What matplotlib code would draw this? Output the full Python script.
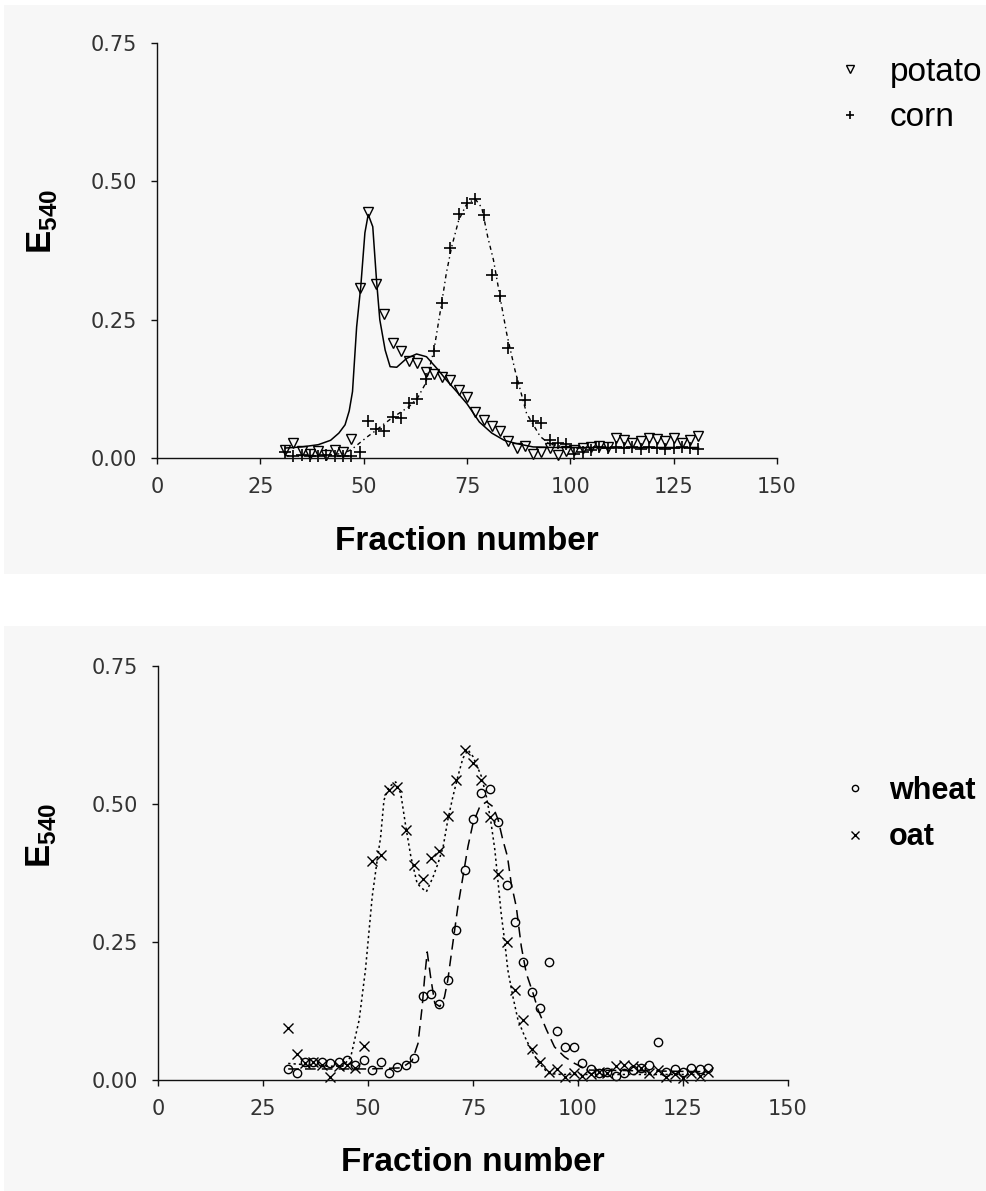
import matplotlib
matplotlib.use("Agg")
import matplotlib.pyplot as plt
from matplotlib.patches import Rectangle

# ---- data (E540 per fraction) ----
fractions = list(range(31, 132, 2))

potato = [0.015, 0.028, 0.012, 0.008, 0.012, 0.006, 0.014, 0.010, 0.034, 0.307,
          0.445, 0.315, 0.260, 0.208, 0.194, 0.176, 0.171, 0.156, 0.152, 0.146,
          0.141, 0.123, 0.110, 0.084, 0.069, 0.057, 0.048, 0.030, 0.018, 0.022,
          0.008, 0.010, 0.018, 0.005, 0.012, 0.014, 0.018, 0.020, 0.022, 0.020,
          0.036, 0.032, 0.028, 0.030, 0.036, 0.034, 0.030, 0.036, 0.028, 0.032,
          0.040]
corn = [0.010, 0.004, 0.006, 0.004, 0.003, 0.005, 0.004, 0.003, 0.003, 0.010,
        0.067, 0.052, 0.048, 0.075, 0.072, 0.099, 0.106, 0.142, 0.194, 0.280,
        0.379, 0.441, 0.460, 0.468, 0.439, 0.331, 0.292, 0.198, 0.135, 0.104,
        0.066, 0.063, 0.033, 0.028, 0.026, 0.008, 0.010, 0.015, 0.020, 0.018,
        0.020, 0.018, 0.020, 0.016, 0.020, 0.018, 0.016, 0.018, 0.020, 0.018,
        0.016]
wheat = [0.020, 0.012, 0.033, 0.033, 0.033, 0.030, 0.033, 0.037, 0.027, 0.036,
         0.018, 0.033, 0.012, 0.024, 0.027, 0.040, 0.153, 0.156, 0.138, 0.181,
         0.272, 0.380, 0.472, 0.520, 0.527, 0.468, 0.353, 0.287, 0.213, 0.160,
         0.131, 0.213, 0.088, 0.060, 0.060, 0.030, 0.020, 0.012, 0.015, 0.008,
         0.012, 0.018, 0.022, 0.028, 0.068, 0.015, 0.020, 0.015, 0.022, 0.020,
         0.022]
oat = [0.095, 0.048, 0.030, 0.033, 0.028, 0.006, 0.025, 0.028, 0.022, 0.062,
       0.397, 0.408, 0.525, 0.531, 0.452, 0.390, 0.364, 0.402, 0.415, 0.478,
       0.543, 0.598, 0.575, 0.543, 0.476, 0.373, 0.250, 0.163, 0.109, 0.057,
       0.033, 0.015, 0.020, 0.005, 0.012, 0.008, 0.010, 0.015, 0.012, 0.025,
       0.028, 0.025, 0.022, 0.012, 0.018, 0.005, 0.010, 0.003, 0.012, 0.008,
       0.015]

# fitted curves
potato_fit_x = [31, 35, 39, 42, 44, 45.5, 46.5, 47.3, 48.3, 49.3, 50.3, 51.1, 52.2,
                53.1, 53.9, 55.2, 56.4, 58, 60.4, 62.8, 65.2, 67.7, 70, 72.5, 75,
                78, 81, 84, 87, 91, 96, 131]
potato_fit_y = [0.018, 0.020, 0.024, 0.032, 0.045, 0.060, 0.085, 0.120, 0.237, 0.310,
                0.407, 0.440, 0.418, 0.322, 0.250, 0.195, 0.165, 0.164, 0.180, 0.188,
                0.183, 0.162, 0.141, 0.120, 0.098, 0.065, 0.045, 0.032, 0.026, 0.020,
                0.019, 0.019]
corn_fit_x = [31, 40, 45, 47, 49, 51, 53, 55, 57, 59, 61, 63, 65, 67, 69, 70, 71.3,
              73, 75, 77, 78.6, 80, 81.4, 83.4, 84.6, 86.6, 89.4, 92.7, 95, 100, 131]
corn_fit_y = [0.004, 0.005, 0.008, 0.015, 0.027, 0.039, 0.050, 0.062, 0.073, 0.083,
              0.093, 0.108, 0.135, 0.195, 0.286, 0.334, 0.382, 0.430, 0.460, 0.468,
              0.452, 0.400, 0.358, 0.274, 0.225, 0.159, 0.081, 0.039, 0.025, 0.018,
              0.018]
wheat_fit_x = [31, 40, 50, 58, 60.5, 61.9, 62.9, 63.5, 64.1, 64.9, 65.9, 67.1, 68.2,
               69, 69.8, 71.4, 72.6, 73.8, 75, 76.6, 78.2, 79.8, 81, 82.1, 83.2, 84.1,
               85.3, 86.5, 87.7, 89.3, 90.5, 92.5, 94.4, 96.8, 99.2, 102.4, 131]
wheat_fit_y = [0.020, 0.020, 0.020, 0.022, 0.035, 0.066, 0.133, 0.187, 0.232, 0.187,
               0.139, 0.133, 0.150, 0.181, 0.226, 0.314, 0.368, 0.423, 0.465, 0.495,
               0.504, 0.495, 0.471, 0.435, 0.405, 0.356, 0.314, 0.242, 0.193, 0.157,
               0.127, 0.091, 0.060, 0.042, 0.030, 0.018, 0.015]
oat_fit_x = [31, 40, 44, 45.9, 47.9, 49.4, 51, 52.2, 53, 53.8, 55, 56.6, 57.8, 59,
             60.2, 61.7, 62.9, 63.9, 65.5, 66.7, 67.9, 69, 70.2, 71.4, 72.6, 73.8, 75,
             77, 78.2, 79.2, 80.2, 81, 81.7, 82.5, 83.3, 84.5, 85.7, 87.3, 88.9, 90.5,
             92.9, 96, 131]
oat_fit_y = [0.030, 0.025, 0.025, 0.042, 0.109, 0.200, 0.332, 0.399, 0.440, 0.507,
             0.531, 0.540, 0.519, 0.459, 0.405, 0.356, 0.347, 0.341, 0.368, 0.393,
             0.423, 0.471, 0.513, 0.550, 0.583, 0.598, 0.586, 0.550, 0.513, 0.471,
             0.417, 0.356, 0.302, 0.254, 0.199, 0.151, 0.109, 0.079, 0.054, 0.033,
             0.012, 0.010, 0.010]

x_ticks = [0, 25, 50, 75, 100, 125, 150]
y_ticks = [0.00, 0.25, 0.50, 0.75]

W, H = 986, 1191
BG = "#f7f7f7"
LABEL_FONT = "Liberation Sans"
TICK_FONT = "DejaVu Sans"

plt.rcParams["mathtext.fontset"] = "custom"
plt.rcParams["mathtext.bf"] = "Liberation Sans:bold"
plt.rcParams["mathtext.rm"] = "Liberation Sans"


def px_box(left, right, top, bottom):
    """figure-fraction rect from pixel edges (y measured from the top)"""
    return [left / W, 1 - bottom / H, (right - left) / W, (bottom - top) / H]


def style_axes(ax, ylabel_y):
    ax.set_facecolor("none")
    ax.set_xlim(0, 150)
    ax.set_ylim(0, 0.75)
    for side in ("top", "right"):
        ax.spines[side].set_visible(False)
    for side in ("left", "bottom"):
        ax.spines[side].set_linewidth(1.0)
        ax.spines[side].set_color("#111111")
    ax.set_xticks(x_ticks)
    ax.set_yticks(y_ticks)
    ax.set_yticklabels([f"{v:.2f}" for v in y_ticks])
    ax.tick_params(direction="out", length=4.5, width=1.0, color="#111111",
                   labelsize=15, labelcolor="#333333")
    ax.tick_params(axis="y", pad=10)
    ax.tick_params(axis="x", pad=9)
    for lab in ax.get_xticklabels() + ax.get_yticklabels():
        lab.set_fontfamily(TICK_FONT)
    ax.text(0.5, -0.2, "Fraction number", transform=ax.transAxes, ha="center",
            va="center", fontsize=24, fontweight="bold", family=LABEL_FONT)
    ax.text(-0.185, ylabel_y, r"$\mathbf{E}_{\mathbf{540}}$", transform=ax.transAxes,
            rotation=90, ha="center", va="center", fontsize=25)


fig = plt.figure(figsize=(W / 100, H / 100), dpi=100)
fig.patch.set_facecolor("white")
for top, bottom in [(5, 574), (626, H)]:
    fig.add_artist(Rectangle((4 / W, 1 - bottom / H), 1 - 4 / W, (bottom - top) / H,
                             transform=fig.transFigure, facecolor=BG,
                             edgecolor="none", zorder=0))

# ---- top panel: potato / corn ----
ax1 = fig.add_axes(px_box(157, 777, 43, 458))
style_axes(ax1, 0.57)
ax1.plot(potato_fit_x, potato_fit_y, color="black", lw=1.1, solid_joinstyle="round")
ax1.plot(corn_fit_x, corn_fit_y, color="black", lw=1.0, dashes=(3, 2.5, 1, 2.5))
h_potato, = ax1.plot(fractions, potato, ls="none", marker="v", ms=7.5, mfc="none",
                     mec="black", mew=1.0, clip_on=False, label="potato")
h_corn, = ax1.plot(fractions, corn, ls="none", marker="+", ms=8, mec="black",
                   mew=1.2, clip_on=False, label="corn")
ax1.legend(handles=[h_potato, h_corn], loc="center left",
           bbox_to_anchor=(840 / W, 1 - 95 / H), bbox_transform=fig.transFigure,
           frameon=False, handlelength=0.6, handletextpad=0.9, labelspacing=0.45,
           borderpad=0, borderaxespad=0, markerscale=0.75,
           prop={"family": LABEL_FONT, "size": 24})

# ---- bottom panel: wheat / oat ----
ax2 = fig.add_axes(px_box(158, 788, 666, 1080))
style_axes(ax2, 0.59)
ax2.plot(wheat_fit_x, wheat_fit_y, color="black", lw=1.1, dashes=(7, 4))
ax2.plot(oat_fit_x, oat_fit_y, color="black", lw=1.1, dashes=(1.5, 2))
h_wheat, = ax2.plot(fractions, wheat, ls="none", marker="o", ms=6, mfc="none",
                    mec="black", mew=1.0, clip_on=False, label="wheat")
h_oat, = ax2.plot(fractions, oat, ls="none", marker="x", ms=7, mec="black",
                  mew=1.0, clip_on=False, label="oat")
ax2.legend(handles=[h_wheat, h_oat], loc="center left",
           bbox_to_anchor=(846 / W, 1 - 814 / H), bbox_transform=fig.transFigure,
           frameon=False, handlelength=0.6, handletextpad=0.8, labelspacing=0.55,
           borderpad=0, borderaxespad=0, markerscale=0.75,
           prop={"family": LABEL_FONT, "size": 22, "weight": "bold"})

fig.savefig("out.png", dpi=100, facecolor="white")
